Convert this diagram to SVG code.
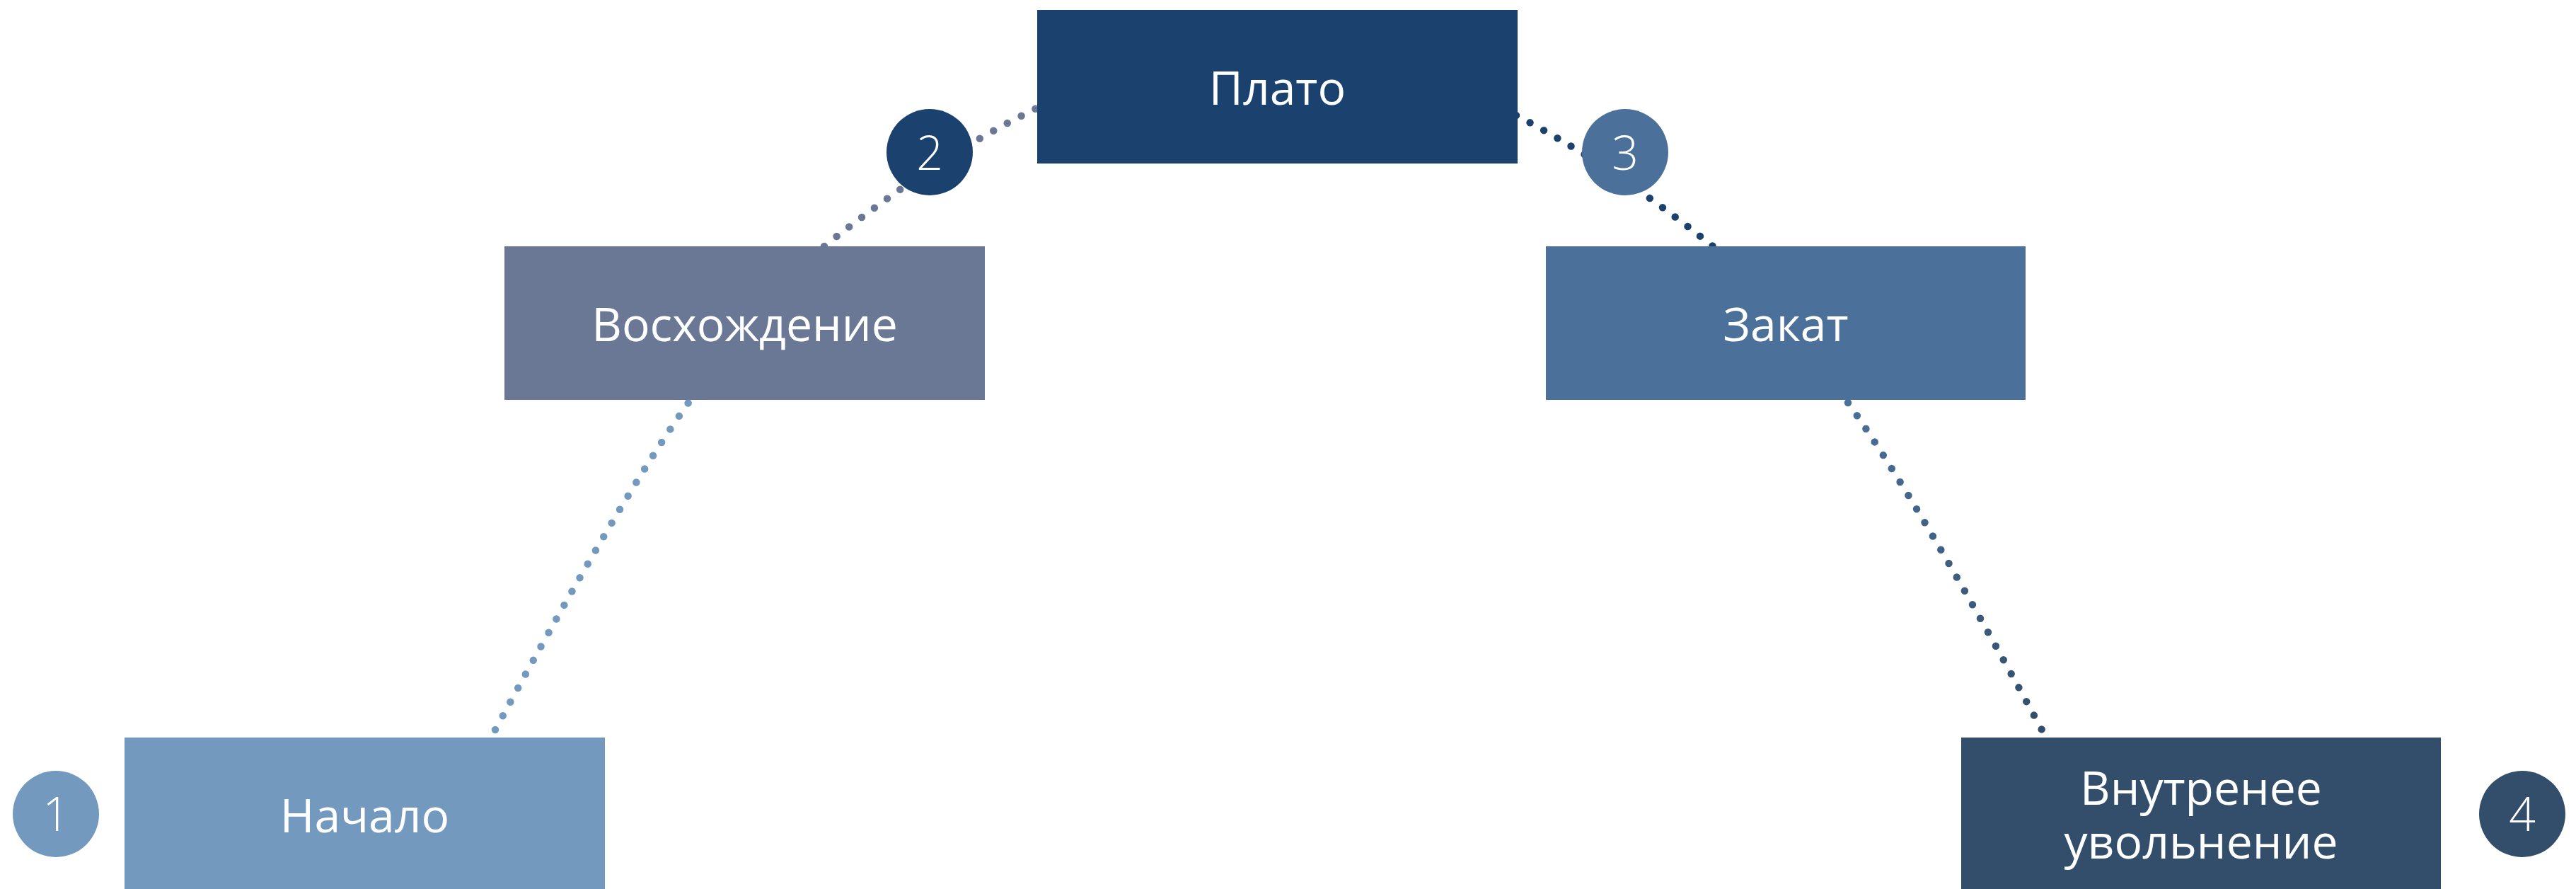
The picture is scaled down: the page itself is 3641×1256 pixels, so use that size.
<svg xmlns="http://www.w3.org/2000/svg" width="3641" height="1256" viewBox="0 0 3641 1256">
  <defs>
    <linearGradient id="fadeDown" gradientUnits="userSpaceOnUse" x1="0" y1="569" x2="0" y2="1031">
      <stop offset="0" stop-color="#4a709a"/>
      <stop offset="1" stop-color="#334e6a"/>
    </linearGradient>
  </defs>
  <style>
    .label { font-family: "Open Sans", "Noto Sans", "Liberation Sans", sans-serif; font-size: 66px; fill: #ffffff; text-anchor: middle; }
    .num { font-family: "Open Sans", "Noto Sans", "Liberation Sans", sans-serif; font-size: 66px; font-weight: 300; fill: #ffffff; text-anchor: middle; }
    .dots { fill: none; stroke-width: 10.5; stroke-linecap: round; stroke-dasharray: 0 1; }
  </style>
  <rect width="3641" height="1256" fill="#ffffff"/>

  <!-- dotted curved connectors, drawn beneath the boxes; pathLength is a hair over the gap count so both end dots render -->
  <g id="connectors">
    <path class="dots" stroke="#7399bf" pathLength="24.03" d="M700,1031 Q877.6,703.4 973,569"/>
    <path class="dots" stroke="#6a7896" pathLength="16.03" d="M1165,348 Q1322,222.7 1464,153.5"/>
    <path class="dots" stroke="#1b426f" pathLength="15.03" d="M2143,163 Q2278.5,233.3 2421,348"/>
    <path class="dots" stroke="url(#fadeDown)" pathLength="24.03" d="M2612,569 Q2708,703.4 2886,1031"/>
  </g>

  <g id="node-start">
    <rect x="176" y="1042" width="679" height="217" fill="#7399bf"/>
    <text class="label" x="515.5" y="1176">Начало</text>
  </g>
  <g id="node-rise">
    <rect x="713" y="348" width="679" height="217" fill="#6a7896"/>
    <text class="label" x="1052.5" y="482">Восхождение</text>
  </g>
  <g id="node-plateau">
    <rect x="1466" y="14" width="679" height="217" fill="#1b426f"/>
    <text class="label" x="1805.5" y="148">Плато</text>
  </g>
  <g id="node-decline">
    <rect x="2185" y="348" width="678" height="217" fill="#4b709a"/>
    <text class="label" x="2524" y="482">Закат</text>
  </g>
  <g id="node-quit">
    <rect x="2772" y="1042" width="678" height="217" fill="#334e6a"/>
    <text class="label"><tspan x="3111" y="1137">Внутренее</tspan><tspan x="3111" y="1213">увольнение</tspan></text>
  </g>

  <g id="badge-1">
    <circle cx="79" cy="1150" r="61" fill="#7399bf"/>
    <text class="num" x="79" y="1174">1</text>
  </g>
  <g id="badge-2">
    <circle cx="1314" cy="215" r="61" fill="#1b426f"/>
    <text class="num" x="1314" y="240">2</text>
  </g>
  <g id="badge-3">
    <circle cx="2297" cy="215" r="61" fill="#4b709a"/>
    <text class="num" x="2297" y="240">3</text>
  </g>
  <g id="badge-4">
    <circle cx="3565" cy="1150" r="61" fill="#334e6a"/>
    <text class="num" x="3565" y="1174">4</text>
  </g>
</svg>
